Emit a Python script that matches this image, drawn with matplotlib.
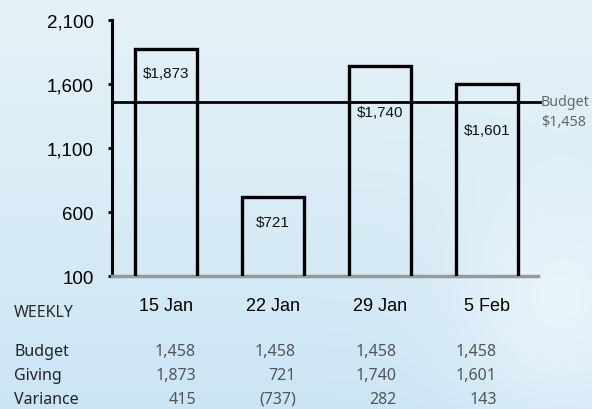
import matplotlib
matplotlib.use("Agg")
import matplotlib.pyplot as plt
import numpy as np
from matplotlib.ticker import FuncFormatter

# --- data -------------------------------------------------------------
weeks = ["15 Jan", "22 Jan", "29 Jan", "5 Feb"]
giving = [1873, 721, 1740, 1601]
budget = 1458
budget_row = [1458, 1458, 1458, 1458]
variance = [415, -737, 282, 143]
yticks = [100, 600, 1100, 1600, 2100]

W, H = 592, 410
SANS = ["Liberation Sans", "DejaVu Sans"]
TABLE_FONT = ["Noto Sans", "DejaVu Sans"]

fig = plt.figure(figsize=(W / 100, H / 100), dpi=100)


def fx(px):
    return px / W


def fy(py):
    return 1 - py / H


# sky-ish background: soft gradient
bg = fig.add_axes([0, 0, 1, 1], zorder=-10)
yy, xx = np.mgrid[0:1:200j, 0:1:300j]
top = np.array([0.90, 0.95, 0.97])
bot = np.array([0.80, 0.90, 0.96])
img = top[None, None, :] * (1 - yy[..., None]) + bot[None, None, :] * yy[..., None]
glow = np.exp(-((xx - 0.95) ** 2 / 0.03 + (yy - 0.75) ** 2 / 0.08))
img = img + (1 - img) * 0.5 * glow[..., None]
bg.imshow(np.clip(img, 0, 1), aspect="auto", extent=[0, 1, 0, 1])
bg.axis("off")

ax = fig.add_axes([fx(112), fy(277), fx(538) - fx(112), fy(21) - fy(277)])
ax.patch.set_alpha(0)

x = np.arange(len(weeks))
ax.bar(x, giving, width=0.58, facecolor="none", edgecolor="black",
       linewidth=2.4, zorder=3)

ax.set_ylim(100, 2100)
ax.set_xlim(-0.505, 3.48)
ax.set_yticks(yticks)
ax.yaxis.set_major_formatter(FuncFormatter(lambda v, p: f"{int(v):,}"))
ax.set_xticks([])
for lab in ax.get_yticklabels():
    lab.set_fontfamily(SANS)
ax.tick_params(axis="y", length=3, width=2, labelsize=13.5, pad=10,
               colors="black")

for s in ("top", "right"):
    ax.spines[s].set_visible(False)
ax.spines["left"].set_linewidth(2.2)
ax.spines["bottom"].set_color("#999999")
ax.spines["bottom"].set_linewidth(2.5)

# budget line
ax.plot([-0.505, 3.5], [budget, budget], color="black", linewidth=2,
        clip_on=False, zorder=4)
fig.text(fx(541), fy(103), "Budget", ha="left", va="center", fontsize=10.3,
         color="#666666", family=TABLE_FONT)
fig.text(fx(541), fy(123), f"${budget:,}", ha="left", va="center",
         fontsize=10.3, color="#666666", family=TABLE_FONT)

# value labels inside bars
label_drop = [17, 18, 33, 33]  # points below bar top
for xi, v, d in zip(x, giving, label_drop):
    ax.annotate(f"${v:,}", xy=(xi, v), xytext=(0, -d),
                textcoords="offset points", ha="center", va="center",
                fontsize=11, family=SANS, color="#111111", zorder=5)

# category labels
for xi, w in zip(x, weeks):
    ax.annotate(w, xy=(xi, 100), xytext=(0, -21), textcoords="offset points",
                ha="center", va="center", fontsize=13, family=SANS,
                color="black", annotation_clip=False)

# table below
fig.text(fx(14), fy(313), "WEEKLY", ha="left", va="center", fontsize=11.5,
         color="#2a2a2a", family=TABLE_FONT)
col_right = [196, 296, 397, 497]
rows = [("Budget", budget_row, 352), ("Giving", giving, 376),
        ("Variance", variance, 400)]
for name, vals, py in rows:
    fig.text(fx(14), fy(py), name, ha="left", va="center", fontsize=11.5,
             color="#222222", family=TABLE_FONT, fontweight="semibold")
    for cx, v in zip(col_right, vals):
        s = f"{v:,}" if v >= 0 else f"({-v:,})"
        fig.text(fx(cx), fy(py), s, ha="right", va="center", fontsize=11.5,
                 color="#555555", family=TABLE_FONT)

fig.savefig("out.png", dpi=100)
